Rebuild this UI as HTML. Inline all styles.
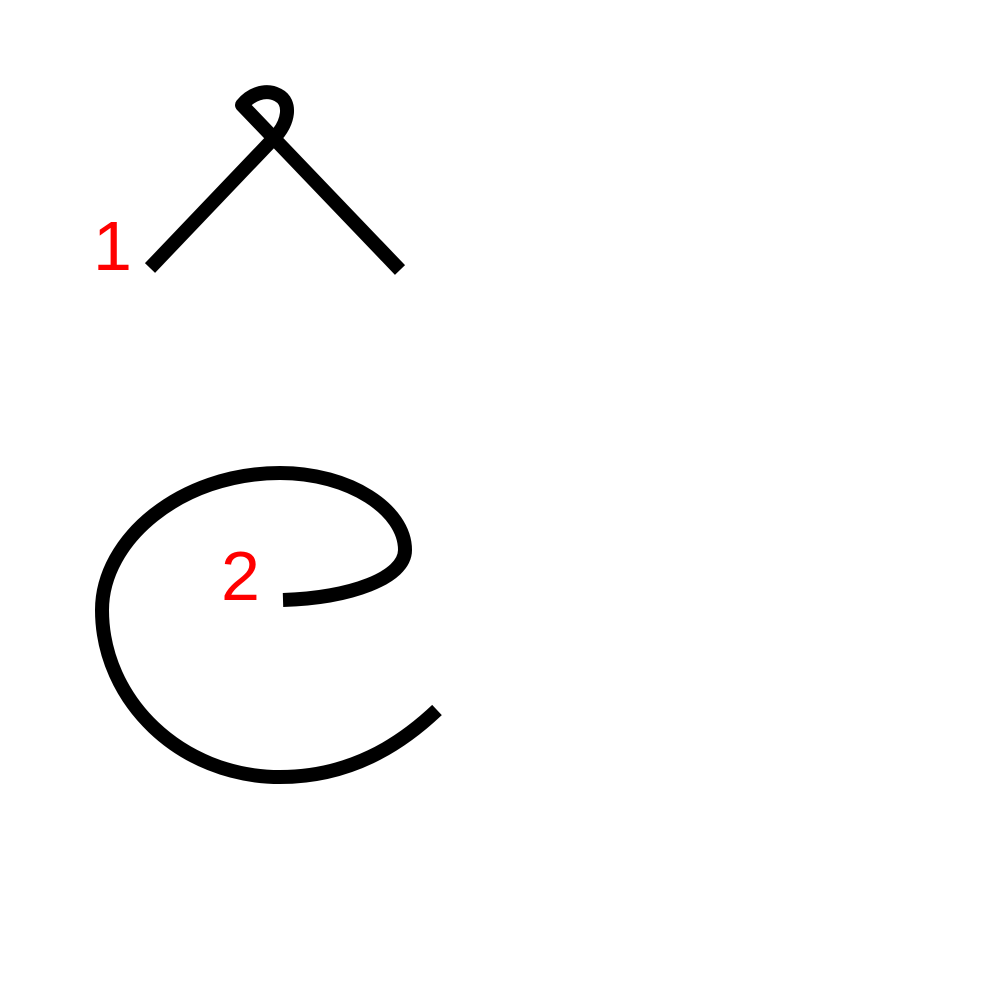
<!DOCTYPE html>
<html><head><meta charset="utf-8"><style>
html,body{margin:0;padding:0;background:#fff;}
svg{display:block}
</style></head><body>
<svg width="1000" height="1000" viewBox="0 0 1000 1000">
<rect width="1000" height="1000" fill="#fff"/>
<path d="M150,268 L274,138 C289,123 292,102 278,95 C265,88 250,95 242,105 L400,270" fill="none" stroke="#000" stroke-width="14" stroke-linecap="butt" stroke-linejoin="round"/>
<path d="M283,600 C350,598 405,578 405,550 C405,510 350,473 280,473 C180,473 102,540 102,610 C102,700 180,777 280,777 C350,777 400,745 437,710" fill="none" stroke="#000" stroke-width="14"/>
<text x="93" y="270" font-family="Liberation Sans, sans-serif" font-size="70" fill="#ff0000">1</text>
<text x="221" y="600" font-family="Liberation Sans, sans-serif" font-size="70" fill="#ff0000">2</text>
</svg>
</body></html>
